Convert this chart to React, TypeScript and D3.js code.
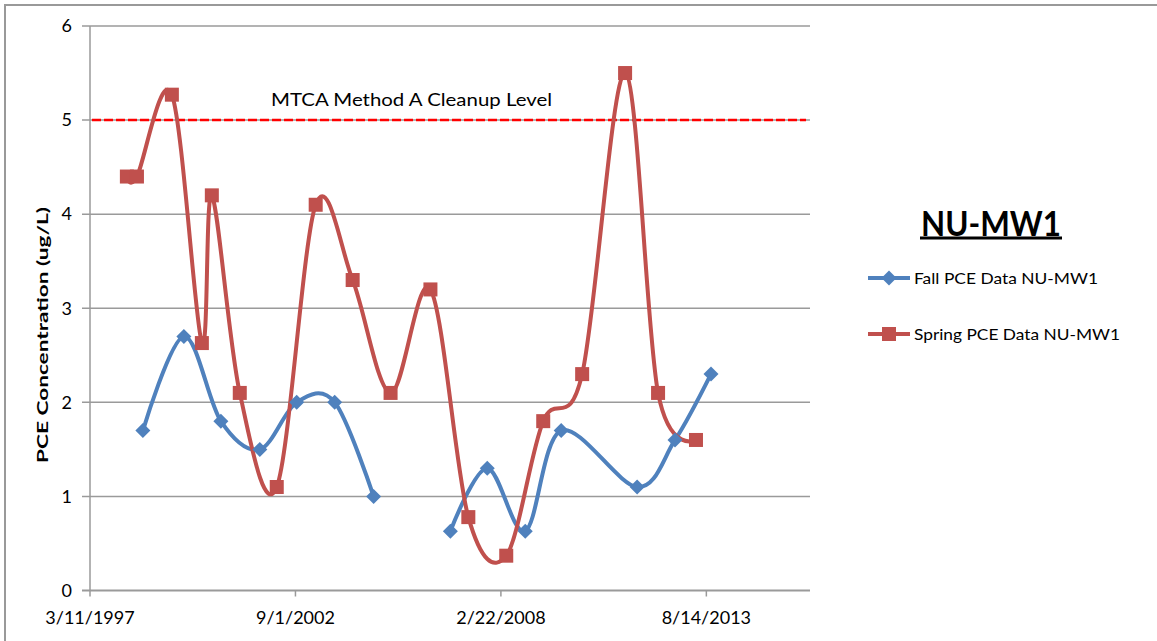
import React from "react";
import * as d3 from "d3";

const fallDates = ["1998-08-08","1999-09-11","2000-09-05","2001-09-19","2002-09-13","2003-09-18","2004-10-01","2005-10-10","2006-10-18","2007-10-12","2008-10-16","2009-10-01","2011-10-10","2012-10-13","2013-09-28"];
const fallValues: (number | null)[] = [1.7,2.7,1.8,1.5,2.0,2.0,1.0,null,0.63,1.3,0.63,1.7,1.1,1.6,2.3];

const springDates = ["1998-03-05","1998-06-11","1999-05-17","2000-03-04","2000-06-09","2001-03-08","2002-03-03","2003-03-17","2004-03-11","2005-03-15","2006-04-07","2007-04-11","2008-04-14","2009-04-09","2010-04-23","2011-06-15","2012-05-01","2013-05-05"];
const springValues = [4.4,4.4,5.27,2.63,4.2,2.1,1.1,4.1,3.3,2.1,3.2,0.78,0.37,1.8,2.3,5.5,2.1,1.6];

const xTickDates = ["1997-03-11","2002-09-01","2008-02-22","2013-08-14"];
const xTickLabels = ["3/11/1997","9/1/2002","2/22/2008","8/14/2013"];
const xDomainEnd = "2016-05-19";
const yTicks = [0,1,2,3,4,5,6];
const cleanupLevel = 5;
const cleanupLabel = "MTCA Method A Cleanup Level";
const title = "NU-MW1";
const yTitle = "PCE Concentration (ug/L)";
const seriesNames = ["Fall PCE Data  NU-MW1", "Spring PCE Data NU-MW1"];

const BLUE = "#4F81BD";
const RED = "#C0504D";
const FONT = "Lato, 'Open Sans', sans-serif";

const parse = d3.utcParse("%Y-%m-%d");

export default function App() {
  const W = 1157, H = 641;
  const left = 90, right = 810, top = 26, bottom = 590.5;
  const x = d3.scaleUtc().domain([parse(xTickDates[0])!, parse(xDomainEnd)!]).range([left, right]);
  const y = d3.scaleLinear().domain([0, 6]).range([bottom, top]);

  const fall = fallDates.map((d, i) => ({ d: parse(d)!, v: fallValues[i] }));
  const spring = springDates.map((d, i) => ({ d: parse(d)!, v: springValues[i] as number | null }));

  const line = d3.line<{ d: Date; v: number | null }>()
    .defined(p => p.v !== null)
    .x(p => x(p.d))
    .y(p => y(p.v as number))
    .curve(d3.curveCardinal.tension(0));

  const diamond = (cx: number, cy: number, r: number) =>
    `M${cx},${cy - r}L${cx + r},${cy}L${cx},${cy + r}L${cx - r},${cy}Z`;

  return (
    <svg width={W} height={H} style={{ position: "absolute", left: 0, top: 0, background: "#fff" }} fontFamily={FONT}>
      <rect x={5} y={5} width={W + 10} height={H + 10} fill="#fff" stroke="#999" strokeWidth={2} />
      {yTicks.map(t => (
        <g key={t}>
          <line x1={left - 8} x2={right} y1={y(t)} y2={y(t)} stroke="#9a9a9a" strokeWidth={t === 0 ? 2 : 1.5} />
          <text x={72} y={y(t)} dy="0.35em" textAnchor="end" fontSize={18} fill="#000">{t}</text>
        </g>
      ))}
      <line x1={left} x2={left} y1={top} y2={bottom} stroke="#9a9a9a" strokeWidth={1.5} />
      {xTickDates.map((d, i) => (
        <g key={d}>
          <line x1={x(parse(d)!)} x2={x(parse(d)!)} y1={bottom} y2={bottom + 6} stroke="#9a9a9a" strokeWidth={1.5} />
          <text x={x(parse(d)!)} y={618} dy="0.35em" textAnchor="middle" fontSize={18} fill="#000">{xTickLabels[i]}</text>
        </g>
      ))}
      <line x1={left + 2} x2={right - 4} y1={y(cleanupLevel)} y2={y(cleanupLevel)} stroke="#FF0000" strokeWidth={2.5} strokeDasharray="9,3" />
      <text x={271} y={100} dy="0.35em" fontSize={18} fill="#000" textLength={281} lengthAdjust="spacingAndGlyphs">{cleanupLabel}</text>

      <path d={line(fall) || ""} fill="none" stroke={BLUE} strokeWidth={4} />
      <path d={line(spring) || ""} fill="none" stroke={RED} strokeWidth={4} />
      {fall.filter(p => p.v !== null).map((p, i) => (
        <path key={i} d={diamond(x(p.d), y(p.v as number), 7.5)} fill={BLUE} />
      ))}
      {spring.map((p, i) => (
        <rect key={i} x={x(p.d) - 7} y={y(p.v as number) - 7} width={14} height={14} fill={RED} />
      ))}

      <text transform={`translate(43,335) rotate(-90)`} textAnchor="middle" dy="0.35em" fontSize={15} fontWeight="bold" fill="#000" textLength={256} lengthAdjust="spacingAndGlyphs">{yTitle}</text>

      <text x={991} y={224} textAnchor="middle" dy="0.35em" fontSize={34} fontWeight="bold" fill="#000" textLength={140} lengthAdjust="spacingAndGlyphs">{title}</text>
      <line x1={920} x2={1062} y1={238} y2={238} stroke="#000" strokeWidth={3} />

      <line x1={868} x2={910} y1={278} y2={278} stroke={BLUE} strokeWidth={4} />
      <path d={diamond(889, 278, 7.5)} fill={BLUE} />
      <text x={914} y={278} dy="0.35em" fontSize={16} fill="#000" textLength={184} lengthAdjust="spacingAndGlyphs">{seriesNames[0]}</text>
      <line x1={868} x2={910} y1={334} y2={334} stroke={RED} strokeWidth={4} />
      <rect x={882} y={327} width={14} height={14} fill={RED} />
      <text x={914} y={334} dy="0.35em" fontSize={16} fill="#000" textLength={206} lengthAdjust="spacingAndGlyphs">{seriesNames[1]}</text>
    </svg>
  );
}
